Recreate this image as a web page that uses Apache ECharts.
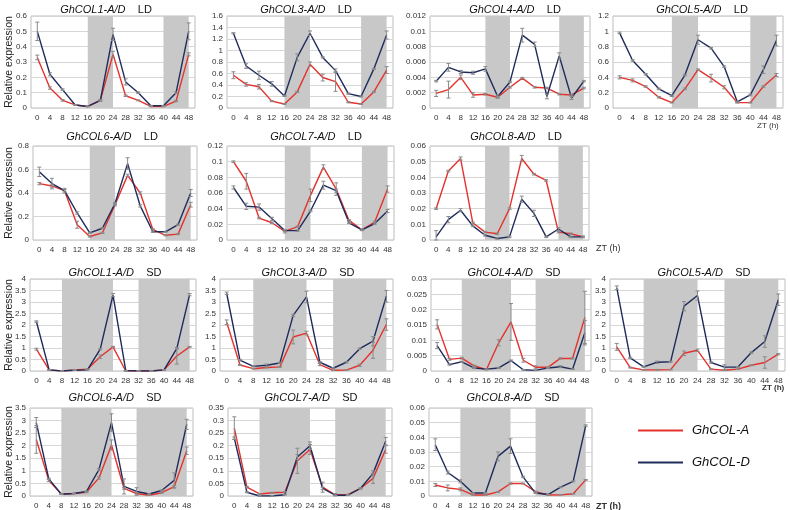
<!DOCTYPE html>
<html><head><meta charset="utf-8">
<script src="https://cdn.jsdelivr.net/npm/echarts@6/dist/echarts.min.js"></script>
<style>html,body{margin:0;padding:0;background:#fff}#c{width:790px;height:510px}</style>
</head><body><div id="c"></div>
<script>
// ---- data ----
const times = ['0','4','8','12','16','20','24','28','32','36','40','44','48'];
const ldBands = [['16','24'],['40','48']];
const sdBands = [['8','24'],['32','48']];

// LD
const ld1A = [0.33,0.13,0.05,0.02,0.01,0.05,0.35,0.08,0.05,0.01,0.01,0.045,0.35];
const ld1AErr = [0.015,0.008,0.005,0.003,0.002,0.005,0.02,0.005,0.003,0.002,0.002,0.004,0.01];
const ld1D = [0.50,0.22,0.12,0.02,0.01,0.05,0.48,0.17,0.10,0.015,0.015,0.10,0.50];
const ld1DErr = [0.06,0.01,0.005,0.003,0.002,0.005,0.04,0.02,0.005,0.002,0.002,0.005,0.055];

const ld3A = [0.57,0.41,0.37,0.12,0.07,0.28,0.76,0.53,0.46,0.10,0.07,0.28,0.66];
const ld3AErr = [0.06,0.03,0.04,0.01,0.01,0.01,0.04,0.06,0.17,0.01,0.01,0.01,0.06];
const ld3D = [1.30,0.73,0.57,0.42,0.21,0.88,1.30,0.88,0.65,0.25,0.20,0.68,1.27];
const ld3DErr = [0.01,0.04,0.07,0.04,0.01,0.06,0.04,0.01,0.03,0.01,0.01,0.01,0.07];

const ld4A = [0.0019,0.0024,0.0040,0.0017,0.0018,0.0014,0.0027,0.0039,0.0027,0.0026,0.0018,0.0017,0.0026];
const ld4AErr = [0.0004,0.0011,0.0003,0.0003,0.0001,0.0001,0.0001,0.0001,0.0001,0.0001,0.0001,0.0001,0.0001];
const ld4D = [0.0035,0.0053,0.0047,0.0046,0.0051,0.0015,0.0034,0.0095,0.0083,0.0015,0.0068,0.0013,0.0035];
const ld4DErr = [0.0001,0.0005,0.0002,0.0002,0.0003,0.0002,0.0001,0.0009,0.0003,0.0003,0.0004,0.0002,0.0001];

const ld5A = [0.40,0.36,0.28,0.14,0.07,0.25,0.50,0.39,0.27,0.07,0.07,0.28,0.43];
const ld5AErr = [0.02,0.02,0.01,0.01,0.005,0.01,0.01,0.05,0.02,0.005,0.005,0.01,0.02];
const ld5D = [0.98,0.62,0.44,0.25,0.16,0.43,0.89,0.78,0.54,0.08,0.17,0.50,0.88];
const ld5DErr = [0.01,0.01,0.01,0.01,0.01,0.01,0.06,0.01,0.01,0.01,0.01,0.05,0.07];

const ld6A = [0.48,0.46,0.42,0.13,0.03,0.06,0.30,0.55,0.40,0.09,0.04,0.05,0.30];
const ld6AErr = [0.01,0.01,0.01,0.03,0.005,0.005,0.01,0.01,0.01,0.005,0.005,0.005,0.02];
const ld6D = [0.58,0.48,0.42,0.23,0.06,0.10,0.31,0.65,0.29,0.07,0.07,0.13,0.40];
const ld6DErr = [0.04,0.045,0.02,0.01,0.005,0.005,0.01,0.05,0.01,0.005,0.005,0.005,0.03];

const ld7A = [0.100,0.075,0.028,0.022,0.011,0.017,0.057,0.093,0.065,0.025,0.013,0.023,0.065];
const ld7AErr = [0.001,0.010,0.001,0.001,0.002,0.001,0.008,0.003,0.008,0.001,0.001,0.001,0.004];
const ld7D = [0.067,0.043,0.042,0.027,0.012,0.012,0.037,0.070,0.063,0.022,0.013,0.021,0.037];
const ld7DErr = [0.002,0.004,0.004,0.002,0.001,0.001,0.001,0.005,0.002,0.001,0.001,0.001,0.002];

const ld8A = [0.020,0.044,0.052,0.011,0.005,0.004,0.020,0.052,0.042,0.038,0.005,0.004,0.002];
const ld8AErr = [0.0005,0.0005,0.001,0.0005,0.0005,0.0005,0.0005,0.002,0.0005,0.0005,0.0005,0.0005,0.0005];
const ld8D = [0.002,0.013,0.019,0.009,0.003,0.001,0.002,0.026,0.017,0.002,0.007,0.002,0.002];
const ld8DErr = [0.004,0.002,0.001,0.0005,0.0005,0.0005,0.0005,0.002,0.002,0.0005,0.001,0.0005,0.0005];

// SD
const sd1A = [0.95,0.05,0.0,0.05,0.08,0.62,1.05,0.0,0.0,0.0,0.05,0.65,1.05];
const sd1AErr = [0.04,0.01,0,0.01,0.01,0.08,0.02,0,0,0,0.01,0.35,0.02];
const sd1D = [2.15,0.05,0.0,0.03,0.05,0.95,3.30,0.02,0.0,0.0,0.05,0.98,3.32];
const sd1DErr = [0.03,0.01,0,0.01,0.01,0.03,0.07,0.01,0,0,0.01,0.03,0.05];

const sd3A = [2.12,0.26,0.10,0.15,0.18,1.48,1.65,0.28,0.03,0.04,0.25,0.90,2.02];
const sd3AErr = [0.1,0.02,0.01,0.02,0.02,0.3,0.08,0.05,0.01,0.01,0.05,0.35,0.25];
const sd3D = [3.38,0.47,0.20,0.25,0.35,2.42,3.22,0.38,0.12,0.38,0.97,1.30,3.25];
const sd3DErr = [0.05,0.03,0.02,0.05,0.03,0.05,0.25,0.03,0.02,0.03,0.03,0.2,0.25];

const sd4A = [0.0152,0.0038,0.0042,0.0017,0.0004,0.0092,0.0160,0.0035,0.0012,0.0012,0.0041,0.0041,0.0175];
const sd4AErr = [0.0015,0.0003,0.0003,0.0002,0.0001,0.001,0.006,0.0006,0.0005,0.0002,0.0002,0.0002,0.0085];
const sd4D = [0.0083,0.0021,0.0030,0.0010,0.0006,0.0010,0.0034,0.0004,0.0002,0.0010,0.0014,0.0006,0.0125];
const sd4DErr = [0.001,0.0002,0.0002,0.0002,0.0001,0.0002,0.0002,0.0001,0.0001,0.0002,0.0003,0.0001,0.004];

const sd5A = [1.05,0.15,0.05,0.05,0.06,0.77,0.90,0.08,0.03,0.08,0.25,0.37,0.73];
const sd5AErr = [0.15,0.02,0.01,0.02,0.01,0.1,0.05,0.02,0.01,0.01,0.02,0.25,0.03];
const sd5D = [3.62,0.57,0.18,0.38,0.40,2.82,3.28,0.37,0.17,0.17,0.80,1.28,3.10];
const sd5DErr = [0.08,0.03,0.02,0.05,0.02,0.2,0.2,0.03,0.1,0.02,0.03,0.25,0.25];

const sd6A = [2.25,0.62,0.08,0.10,0.15,0.72,2.03,0.30,0.10,0.03,0.13,0.37,1.80];
const sd6AErr = [0.55,0.05,0.01,0.01,0.02,0.05,0.2,0.03,0.03,0.01,0.02,0.05,0.15];
const sd6D = [2.92,0.68,0.07,0.10,0.18,1.05,2.92,0.38,0.18,0.08,0.22,0.62,2.85];
const sd6DErr = [0.2,0.03,0.01,0.01,0.02,0.05,0.35,0.3,0.15,0.01,0.02,0.3,0.2];

const sd7A = [0.270,0.035,0.008,0.013,0.015,0.140,0.185,0.035,0.005,0.005,0.030,0.070,0.185];
const sd7AErr = [0.045,0.003,0.002,0.002,0.002,0.05,0.02,0.02,0.005,0.002,0.002,0.02,0.015];
const sd7D = [0.230,0.015,0.000,0.000,0.005,0.155,0.200,0.030,0.003,0.003,0.030,0.090,0.218];
const sd7DErr = [0.005,0.002,0.001,0.001,0.001,0.01,0.015,0.005,0.001,0.001,0.002,0.01,0.015];

const sd8A = [0.0075,0.0055,0.0045,0.0007,0.0007,0.0028,0.0085,0.0085,0.0030,0.0007,0.0008,0.0015,0.0110];
const sd8AErr = [0.001,0.002,0.001,0.0002,0.0002,0.0003,0.0005,0.0003,0.0003,0.0002,0.0002,0.0002,0.0003];
const sd8D = [0.035,0.016,0.010,0.002,0.002,0.027,0.034,0.013,0.002,0.001,0.006,0.010,0.048];
const sd8DErr = [0.004,0.001,0.001,0.0003,0.0003,0.003,0.005,0.0005,0.0003,0.0002,0.0003,0.0003,0.0005];

const genes = ['GhCOL1-A/D','GhCOL3-A/D','GhCOL4-A/D','GhCOL5-A/D','GhCOL6-A/D','GhCOL7-A/D','GhCOL8-A/D'];
const ldMax  = [0.6, 1.6, 0.012, 1.2, 0.8, 0.12, 0.06];
const ldStep = [0.1, 0.2, 0.002, 0.2, 0.2, 0.02, 0.01];
const sdMax  = [4, 4, 0.03, 4, 3.5, 0.35, 0.06];
const sdStep = [0.5, 0.5, 0.005, 0.5, 0.5, 0.05, 0.01];
const seriesNames = ['GhCOL-A','GhCOL-D'];

// ---- layout (pixels) ----
const layout = {
  LD: [
    {l:31,t:16,w:164,h:92},{l:227,t:16,w:166,h:92},{l:430,t:16,w:160,h:92},{l:613,t:16,w:170,h:92},
    {l:33,t:146,w:164,h:94},{l:227,t:146,w:167,h:94},{l:430,t:146,w:159,h:94}
  ],
  SD: [
    {l:30,t:279,w:166,h:92},{l:220,t:279,w:173,h:92},{l:431,t:279,w:160,h:92},{l:610,t:279,w:175,h:92},
    {l:30,t:408,w:163,h:89},{l:228,t:408,w:164,h:89},{l:429,t:408,w:163,h:89}
  ]
};
const titlePos = {
  LD: [[101,-1],[301,-1],[510,-1],[697,-1],[107,126],[311,126],[511,126]],
  SD: [[110,262],[303,262],[509,262],[699,262],[110,387],[306,387],[508,387]]
};

const panelData = {
  LD: [[ld1A,ld1AErr,ld1D,ld1DErr],[ld3A,ld3AErr,ld3D,ld3DErr],[ld4A,ld4AErr,ld4D,ld4DErr],[ld5A,ld5AErr,ld5D,ld5DErr],
       [ld6A,ld6AErr,ld6D,ld6DErr],[ld7A,ld7AErr,ld7D,ld7DErr],[ld8A,ld8AErr,ld8D,ld8DErr]],
  SD: [[sd1A,sd1AErr,sd1D,sd1DErr],[sd3A,sd3AErr,sd3D,sd3DErr],[sd4A,sd4AErr,sd4D,sd4DErr],[sd5A,sd5AErr,sd5D,sd5DErr],
       [sd6A,sd6AErr,sd6D,sd6DErr],[sd7A,sd7AErr,sd7D,sd7DErr],[sd8A,sd8AErr,sd8D,sd8DErr]]
};

const RED = '#e5322d', BLUE = '#1f2b5b', BAND = '#c8c8c8', ERR = '#8a8a8a';
const FONT = '"Liberation Sans", Arial, sans-serif';

const grids = [], xAxes = [], yAxes = [], series = [], titles = [];
let gi = 0;
['LD','SD'].forEach(cond => {
  const maxes = cond === 'LD' ? ldMax : sdMax;
  const steps = cond === 'LD' ? ldStep : sdStep;
  const bands = cond === 'LD' ? ldBands : sdBands;
  genes.forEach((g, k) => {
    const L = layout[cond][k];
    grids.push({left:L.l, top:L.t, width:L.w, height:L.h, show:true, borderColor:'#bdbdbd', borderWidth:1, backgroundColor:'#fff', containLabel:false});
    xAxes.push({type:'category', gridIndex:gi, data:times, boundaryGap:true,
      axisLine:{show:false}, axisTick:{show:false},
      axisLabel:{interval:0, fontSize:8, color:'#333', margin:6, fontFamily:FONT}});
    const firstCol = (k === 0 || k === 4);
    yAxes.push({type:'value', gridIndex:gi, min:0, max:maxes[k], interval:steps[k],
      axisLine:{show:false}, axisTick:{show:false},
      splitLine:{lineStyle:{color:'#d6d6d6', width:1}},
      axisLabel:{fontSize:8, color:'#333', margin:4, fontFamily:FONT},
      name: firstCol ? 'Relative expression' : '',
      nameLocation:'middle', nameGap: L.l - 15, nameRotate:90, nameMoveOverlap:false,
      nameTextStyle:{fontSize:10.5, color:'#222', fontFamily:FONT}});
    const tp = titlePos[cond][k];
    titles.push({text:'{g|' + g + '}{s|    ' + cond + '}', left:tp[0], top:tp[1], textAlign:'center',
      textStyle:{fontWeight:'normal', rich:{g:{fontStyle:'italic', fontWeight:'normal', fontSize:11, color:'#111', fontFamily:FONT},
                       s:{fontSize:11, fontWeight:'normal', color:'#111', fontFamily:FONT}}}});
    const d = panelData[cond][k];
    // background bands
    series.push({type:'line', xAxisIndex:gi, yAxisIndex:gi, data:times.map(() => null), silent:true, z:1,
      markArea:{silent:true, itemStyle:{color:BAND}, data:bands.map(b => [{xAxis:b[0]},{xAxis:b[1]}])}});
    [[0,RED],[2,BLUE]].forEach(([idx, col], s) => {
      series.push({type:'line', name:seriesNames[s], xAxisIndex:gi, yAxisIndex:gi, data:d[idx], showSymbol:false,
        symbol:'none', lineStyle:{color:col, width:1.4}, itemStyle:{color:col}, z:3, silent:true});
      series.push({type:'custom', name:seriesNames[s] + ' err', xAxisIndex:gi, yAxisIndex:gi, z:4, silent:true,
        data:d[idx].map((v,i) => [i, v, d[idx+1][i]]),
        renderItem:(params, api) => {
          const x = api.value(0), y = api.value(1), e = api.value(2);
          const top = api.coord([x, y + e]);
          const bot = api.coord([x, Math.max(0, y - e)]);
          const hw = 2;
          const st = {stroke:ERR, lineWidth:1};
          return {type:'group', children:[
            {type:'line', shape:{x1:top[0], y1:top[1], x2:bot[0], y2:bot[1]}, style:st},
            {type:'line', shape:{x1:top[0]-hw, y1:top[1], x2:top[0]+hw, y2:top[1]}, style:st},
            {type:'line', shape:{x1:bot[0]-hw, y1:bot[1], x2:bot[0]+hw, y2:bot[1]}, style:st}
          ]};
        }});
    });
    gi++;
  });
});

const chart = echarts.init(document.getElementById('c'), null, {renderer:'canvas'});
chart.setOption({
  animation:false,
  textStyle:{fontFamily:FONT},
  title:titles,
  grid:grids, xAxis:xAxes, yAxis:yAxes, series:series,
  legend:{data:seriesNames, orient:'vertical', left:633, top:419, itemWidth:45, itemHeight:2, icon:'rect',
    itemGap:19, selectedMode:false,
    textStyle:{fontStyle:'italic', fontSize:13, color:'#111', padding:[0,0,0,4], fontFamily:FONT}},
  graphic:[
    {type:'text', left:757, top:122, style:{text:'ZT (h)', fontSize:8, fill:'#333', fontFamily:FONT}},
    {type:'text', left:596, top:244, style:{text:'ZT (h)', fontSize:9, fill:'#333', fontFamily:FONT}},
    {type:'text', left:762, top:384, style:{text:'ZT (h)', fontSize:8, fill:'#333', fontFamily:FONT, fontWeight:'bold'}},
    {type:'text', left:596, top:502, style:{text:'ZT (h)', fontSize:9, fill:'#333', fontFamily:FONT, fontWeight:'bold'}}
  ]
});
</script>
</body></html>
